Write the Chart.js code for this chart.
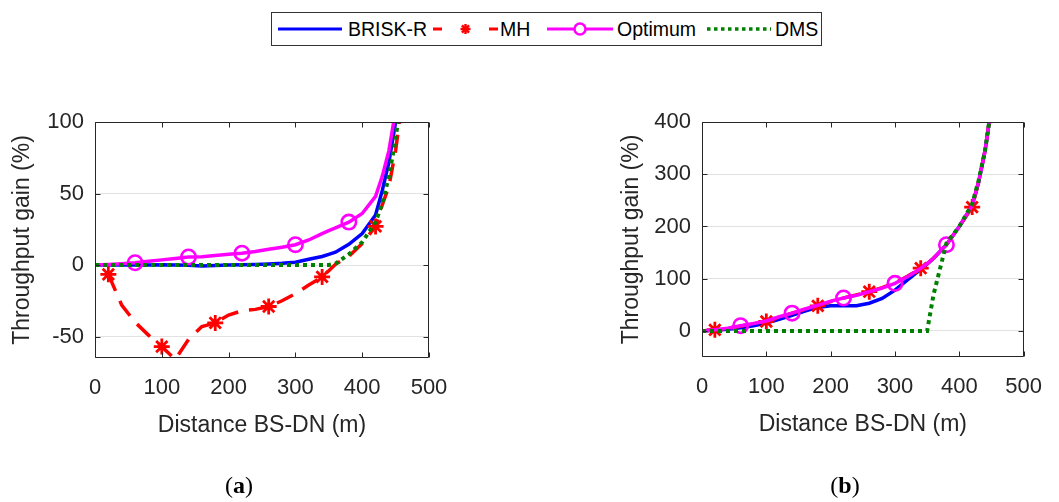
<!DOCTYPE html>
<html><head><meta charset="utf-8">
<script src="https://cdn.jsdelivr.net/npm/chart.js@4.4.0/dist/chart.umd.min.js"></script>
<style>
html,body{margin:0;padding:0;background:#fff;}
#wrap{position:relative;width:1059px;height:502px;overflow:hidden;font-family:"Liberation Sans",Arial,sans-serif;color:#000;}
canvas{position:absolute;left:0;top:0;}
.lgbox{position:absolute;left:271px;top:12px;width:551px;height:34px;border:1px solid #333;box-sizing:border-box;background:#fff;}
.lgt{position:absolute;top:17px;font-size:19.5px;line-height:24px;white-space:nowrap;}
.sub{position:absolute;top:472px;width:100px;text-align:center;font-family:"Liberation Serif","Times New Roman",serif;font-size:24px;line-height:26px;}
</style></head>
<body>
<div id="wrap">
  <canvas id="ca" width="1059" height="502"></canvas>
  <canvas id="cb" width="1059" height="502"></canvas>
  <div class="lgbox"></div>
  <svg id="lgsvg" width="1059" height="60" style="position:absolute;left:0;top:0;"></svg>
  <div class="lgt" style="left:348px">BRISK-R</div>
  <div class="lgt" style="left:500px">MH</div>
  <div class="lgt" style="left:617px">Optimum</div>
  <div class="lgt" style="left:775px">DMS</div>
  <div class="sub" style="left:189px">(<b>a</b>)</div>
  <div class="sub" style="left:795px">(<b>b</b>)</div>
</div>
<script>
// ---- data ----
const distances = [0,20,40,60,80,100,120,140,160,180,200,220,240,260,280,300,320,340,350,360,380,400,420,430,440,450,460];
const xTicks = [0,100,200,300,400,500];
const yTicksA = [-50,0,50,100];
const yTicksB = [0,100,200,300,400];
const mhMarks = [20,100,180,260,340,420];
const optMarks = [60,140,220,300,380];

// panel (a)
const briskA = [0,0,0,0,0,0.2,0,-0.2,-0.6,-0.4,0,0.2,0.4,0.8,1.2,2,4,6,7.5,9,14.5,22,35,52,72,100,140];
const mhA    = [null,-6.5,-28,-40,-49,-57,-66,-52,-43,-40.5,-35,-32,-31,-29,-25,-20,-14,-8.3,-4,0.5,6,15,27,42,55,80,115];
const optA   = [0,0.4,0.9,1.6,2.6,3.6,4.6,5.6,5.8,6.6,7.6,8.3,9.5,11,12.5,14.2,17.5,22,24,26,30,36,48,62,80,108,150];
const dmsA   = [0,0,0,0,0,0,0,0,0,0,0,0,0,0,0,0,0,0,0,1,7.5,16,30,43,62,88,125];

// panel (b)
const briskB = [0,1,3,6,10,15,22,30,38,45,48,48,48,53,62,78,98,118,128,139,165,200,240,285,345,430,560];
const mhB    = [0,2,5,9,14,18,26,34,41,48,56,63,69,75,83,92,105,120,129,139,165,200,237,285,345,430,560];
const optB   = [0,2,5,10,14,19,27,34,42,49,57,63,68,75,82,91,104,120,129,139,165,200,240,285,345,430,560];
const dmsB   = [0,0,0,0,0,0,0,0,0,0,0,0,0,0,0,0,0,0,0,70,168,200,243,288,345,430,560];

// ---- styling ----
const FONT = '"Liberation Sans", Arial, sans-serif';
const TXT = '#262626';

const boxPlugin = {
  id: 'box',
  afterDraw(chart) {
    const {ctx, chartArea: a, scales: {x, y}} = chart;
    ctx.save();
    ctx.strokeStyle = '#262626';
    ctx.lineWidth = 1;
    const L = Math.round(a.left) + 0.5, R = Math.round(a.right) - 0.5;
    const T = Math.round(a.top) + 0.5, B = Math.round(a.bottom) - 0.5;
    ctx.beginPath();
    ctx.rect(L, T, R - L, B - T);
    x.ticks.forEach(t => {
      const p = Math.round(x.getPixelForValue(t.value)) + 0.5;
      ctx.moveTo(p, B); ctx.lineTo(p, B - 5);
      ctx.moveTo(p, T); ctx.lineTo(p, T + 5);
    });
    y.ticks.forEach(t => {
      const p = Math.round(y.getPixelForValue(t.value)) + 0.5;
      ctx.moveTo(L, p); ctx.lineTo(L + 5, p);
      ctx.moveTo(R, p); ctx.lineTo(R - 5, p);
    });
    ctx.stroke();
    ctx.restore();
  }
};

function pts(vals) { return distances.map((d, i) => ({x: d, y: vals[i]})); }

function build(id, s, yMin, yMax, yTicks, pad, yW) {
  new Chart(document.getElementById(id), {
    type: 'line',
    data: {datasets: [
      {label: 'BRISK-R', data: pts(s.brisk), borderColor: '#0000ff', borderWidth: 3.5,
       pointRadius: 0, pointHoverRadius: 0, order: 3, clip: 0},
      {label: 'MH', data: pts(s.mh), borderColor: '#ff0000', borderWidth: 3.5, borderDash: [18, 11],
       pointStyle: 'star', pointBorderColor: '#ff0000', pointBackgroundColor: '#ff0000', pointBorderWidth: 2.8,
       pointRadius: c => mhMarks.includes(distances[c.dataIndex]) ? 8 : 0, pointHoverRadius: 0, order: 2, clip: 0},
      {label: 'Optimum', data: pts(s.opt), borderColor: '#ff00ff', borderWidth: 3.5,
       pointStyle: 'circle', pointBorderColor: '#ff00ff', pointBackgroundColor: 'rgba(0,0,0,0)', pointBorderWidth: 2.6,
       pointRadius: c => optMarks.includes(distances[c.dataIndex]) ? 7.2 : 0, pointHoverRadius: 0, order: 1, clip: 0},
      {label: 'DMS', data: pts(s.dms), borderColor: '#008000', borderWidth: 4, borderDash: [4, 4],
       pointRadius: 0, pointHoverRadius: 0, order: 0, clip: 0}
    ]},
    options: {
      responsive: false, animation: false, devicePixelRatio: 1,
      layout: {padding: pad},
      plugins: {legend: {display: false}, tooltip: {enabled: false}},
      elements: {line: {tension: 0, borderCapStyle: 'butt'}},
      scales: {
        x: {
          type: 'linear', min: 0, max: 500,
          afterBuildTicks: sc => { sc.ticks = xTicks.map(v => ({value: v})); },
          afterFit: sc => { sc.height = 83; },
          grid: {display: false, drawTicks: false}, border: {display: false},
          ticks: {font: {family: FONT, size: 22}, color: TXT, padding: 17, maxRotation: 0, autoSkip: false},
          title: {display: true, text: 'Distance BS-DN (m)', font: {family: FONT, size: 23}, color: TXT, padding: {top: 4, bottom: 2}}
        },
        y: {
          type: 'linear', min: yMin, max: yMax,
          afterBuildTicks: sc => { sc.ticks = yTicks.map(v => ({value: v})); },
          afterFit: sc => { sc.width = yW; },
          grid: {color: '#e2e2e2', lineWidth: 1, drawTicks: false}, border: {display: false},
          ticks: {font: {family: FONT, size: 22}, color: TXT, padding: 11, autoSkip: false},
          title: {display: true, text: 'Throughput gain (%)', font: {family: FONT, size: 23}, color: TXT, padding: {top: 4, bottom: 4}}
        }
      }
    },
    plugins: [boxPlugin]
  });
}

build('ca', {brisk: briskA, mh: mhA, opt: optA, dms: dmsA}, -65, 100, yTicksA,
      {left: 5, right: 630, top: 122, bottom: 61}, 90);
build('cb', {brisk: briskB, mh: mhB, opt: optB, dms: dmsB}, -50, 400, yTicksB,
      {left: 614, right: 23, top: 122, bottom: 62}, 88);

// ---- legend samples ----
(function () {
  const NS = 'http://www.w3.org/2000/svg';
  const svg = document.getElementById('lgsvg');
  function el(tag, attrs) {
    const e = document.createElementNS(NS, tag);
    for (const k in attrs) e.setAttribute(k, attrs[k]);
    svg.appendChild(e); return e;
  }
  const y = 29;
  el('line', {x1: 278, y1: y, x2: 342, y2: y, stroke: '#0000ff', 'stroke-width': 3});
  el('line', {x1: 433, y1: y, x2: 442, y2: y, stroke: '#ff0000', 'stroke-width': 3});
  el('line', {x1: 489, y1: y, x2: 498, y2: y, stroke: '#ff0000', 'stroke-width': 3});
  const cx = 465.5, r = 5;
  [[r, 0], [0, r], [r * 0.707, r * 0.707], [r * 0.707, -r * 0.707]].forEach(([dx, dy]) =>
    el('line', {x1: cx - dx, y1: y - dy, x2: cx + dx, y2: y + dy, stroke: '#ff0000', 'stroke-width': 2.5}));
  el('line', {x1: 547, y1: y, x2: 613, y2: y, stroke: '#ff00ff', 'stroke-width': 3});
  el('circle', {cx: 580, cy: y, r: 5.5, fill: '#fff', stroke: '#ff00ff', 'stroke-width': 2.5});
  el('line', {x1: 707, y1: y, x2: 771, y2: y, stroke: '#008000', 'stroke-width': 3.5, 'stroke-dasharray': '3.5 3.5'});
})();
</script>
</body></html>
